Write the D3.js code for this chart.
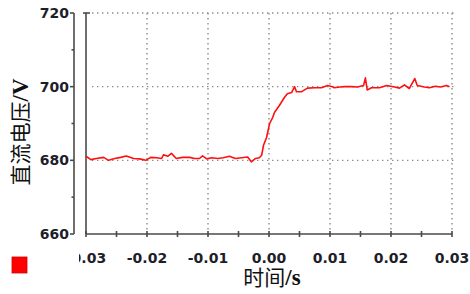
<!DOCTYPE html>
<html lang="zh">
<head>
<meta charset="utf-8">
<title>DC voltage step</title>
<script type="text/javascript" src="https://cdnjs.cloudflare.com/ajax/libs/d3/7.8.5/d3.min.js"></script>
<style>
body { margin: 0; background: #fff; }
.tick-label { font-family: "DejaVu Sans", Verdana, sans-serif; font-weight: bold; font-size: 14px; fill: #1e1e2a; }
.grid line { stroke: #8a8a8a; stroke-width: 1.4; stroke-dasharray: 1.4 3.6; }
.axis-line { stroke: #4a4a4a; stroke-width: 1.6; }
.cn-label { font-family: "Liberation Serif", "Noto Sans CJK SC", serif; font-size: 21px; fill: #111; }
.cn-label .unit { font-family: "Liberation Serif", serif; font-weight: bold; font-size: 23px; }
</style>
</head>
<body>
<div id="chart"></div>
<script type="text/javascript">

// time (s) and DC voltage (V)
var times = [-0.0300, -0.0292, -0.0283, -0.0271, -0.0263, -0.0253, -0.0243, -0.0234, -0.0222, -0.0212,
    -0.0202, -0.0194, -0.0184, -0.0176, -0.0173, -0.0166, -0.0160, -0.0152, -0.0142, -0.0130,
    -0.0122, -0.0114, -0.0109, -0.0102, -0.0094, -0.0084, -0.0075, -0.0065, -0.0055, -0.0045,
    -0.0035, -0.0029, -0.0022, -0.0016, -0.0012, -0.0009, -0.0004, 0.0001, 0.0006, 0.0009,
    0.0017, 0.0025, 0.0030, 0.0037, 0.0042, 0.0045, 0.0053, 0.0063, 0.0075, 0.0086,
    0.0096, 0.0104, 0.0107, 0.0116, 0.0124, 0.0135, 0.0145, 0.0155, 0.0158, 0.0161,
    0.0168, 0.0181, 0.0193, 0.0206, 0.0214, 0.0222, 0.0230, 0.0239, 0.0243, 0.0255,
    0.0263, 0.0273, 0.0281, 0.0291, 0.0296];
var volts = [681.1, 680.2, 680.5, 680.8, 680.0, 680.5, 680.8, 681.2, 680.5, 680.4,
    680.0, 680.8, 680.7, 680.5, 681.5, 681.1, 681.9, 680.5, 680.8, 680.8,
    680.5, 680.5, 681.2, 680.4, 680.7, 680.5, 680.7, 681.1, 680.5, 680.7,
    680.9, 679.6, 680.5, 680.7, 681.4, 684.1, 686.2, 690.0, 691.6, 693.0,
    694.9, 697.0, 698.1, 698.4, 700.0, 698.6, 698.6, 699.6, 699.7, 699.7,
    700.3, 700.0, 699.7, 699.9, 700.0, 700.0, 699.9, 700.3, 702.4, 699.1,
    699.7, 699.7, 700.3, 699.9, 699.6, 700.5, 699.5, 702.2, 700.3, 699.9,
    699.7, 700.1, 699.9, 700.3, 700.0];

var xTicks = [-0.03, -0.02, -0.01, 0.00, 0.01, 0.02, 0.03];
var xMinor = [-0.025, -0.015, -0.005, 0.005, 0.015, 0.025];
var yTicks = [660, 680, 700, 720];
var yMinor = [670, 690, 710];
var yTitle = "直流电压";
var xTitle = "时间";

var width = 470, height = 294;
var plot = {left: 86, right: 452, top: 13, bottom: 234};

var svg = d3.select("#chart").append("svg")
    .attr("width", width)
    .attr("height", height);

var x = d3.scaleLinear().domain([-0.03, 0.03]).range([plot.left, plot.right]);
var y = d3.scaleLinear().domain([660, 720]).range([plot.bottom, plot.top]);

// dotted grid
var grid = svg.append("g").attr("class", "grid");
grid.selectAll("line.v")
    .data(xTicks.slice(1))
    .enter().append("line")
        .attr("class", "v")
        .attr("x1", d => x(d)).attr("x2", d => x(d))
        .attr("y1", plot.top).attr("y2", plot.bottom);
grid.selectAll("line.h")
    .data(yTicks.slice(1))
    .enter().append("line")
        .attr("class", "h")
        .attr("x1", plot.left + 6).attr("x2", plot.right + 2)
        .attr("y1", d => y(d)).attr("y2", d => y(d));

// left value axis, offset from the plot
var axisX = 74;
svg.append("line").attr("class", "axis-line")
    .attr("x1", axisX).attr("x2", axisX)
    .attr("y1", y(720)).attr("y2", y(660));
svg.selectAll("line.ymaj")
    .data(yTicks)
    .enter().append("line")
        .attr("class", "axis-line ymaj")
        .attr("x1", axisX - 4).attr("x2", axisX)
        .attr("y1", d => y(d)).attr("y2", d => y(d));
svg.selectAll("line.ymin")
    .data(yMinor)
    .enter().append("line")
        .attr("class", "axis-line ymin")
        .attr("x1", axisX - 2.5).attr("x2", axisX)
        .attr("y1", d => y(d)).attr("y2", d => y(d));
svg.selectAll("text.ylab")
    .data(yTicks)
    .enter().append("text")
        .attr("class", "tick-label ylab")
        .attr("x", 69)
        .attr("y", d => y(d))
        .attr("dy", "0.36em")
        .attr("text-anchor", "end")
        .text(d => d);

// plot frame: left edge and bottom axis
svg.append("line").attr("class", "axis-line")
    .attr("x1", plot.left).attr("x2", plot.left)
    .attr("y1", plot.top).attr("y2", plot.bottom);
svg.append("line").attr("class", "axis-line")
    .attr("x1", plot.left - 3).attr("x2", plot.left + 4)
    .attr("y1", plot.top).attr("y2", plot.top);
svg.append("line").attr("class", "axis-line")
    .attr("x1", plot.left).attr("x2", plot.right)
    .attr("y1", plot.bottom).attr("y2", plot.bottom);
svg.selectAll("line.xtick")
    .data(xTicks.concat(xMinor))
    .enter().append("line")
        .attr("class", "axis-line xtick")
        .attr("x1", d => x(d)).attr("x2", d => x(d))
        .attr("y1", plot.bottom - 3).attr("y2", plot.bottom + 3);

svg.append("clipPath").attr("id", "xlabClip")
    .append("rect").attr("x", 79).attr("y", 240).attr("width", 400).attr("height", 30);
svg.append("g").attr("clip-path", "url(#xlabClip)")
    .selectAll("text")
    .data(xTicks)
    .enter().append("text")
        .attr("class", "tick-label")
        .attr("x", d => x(d))
        .attr("y", 263)
        .attr("text-anchor", "middle")
        .text(d => d3.format(".2f")(d).replace("−", "-"));

// trace
var line = d3.line()
    .x((d, i) => x(times[i]))
    .y(d => y(d));
svg.append("path")
    .datum(volts)
    .attr("fill", "none")
    .attr("stroke", "#ff1010")
    .attr("stroke-width", 1.6)
    .attr("stroke-linejoin", "round")
    .attr("d", line);

// titles
var yt = svg.append("text")
    .attr("class", "cn-label")
    .attr("transform", "translate(28,132) rotate(-90)")
    .attr("text-anchor", "middle");
yt.append("tspan").text(yTitle);
yt.append("tspan").attr("class", "unit").text("/V");

var xt = svg.append("text")
    .attr("class", "cn-label")
    .attr("x", 272)
    .attr("y", 285)
    .attr("text-anchor", "middle");
xt.append("tspan").text(xTitle);
xt.append("tspan").attr("class", "unit").text("/s");

// legend swatch
svg.append("rect")
    .attr("x", 12).attr("y", 257)
    .attr("width", 15).attr("height", 16)
    .attr("fill", "#ff0000")
    .attr("stroke", "#d00000")
    .attr("stroke-width", 0.8);

</script>
</body>
</html>
